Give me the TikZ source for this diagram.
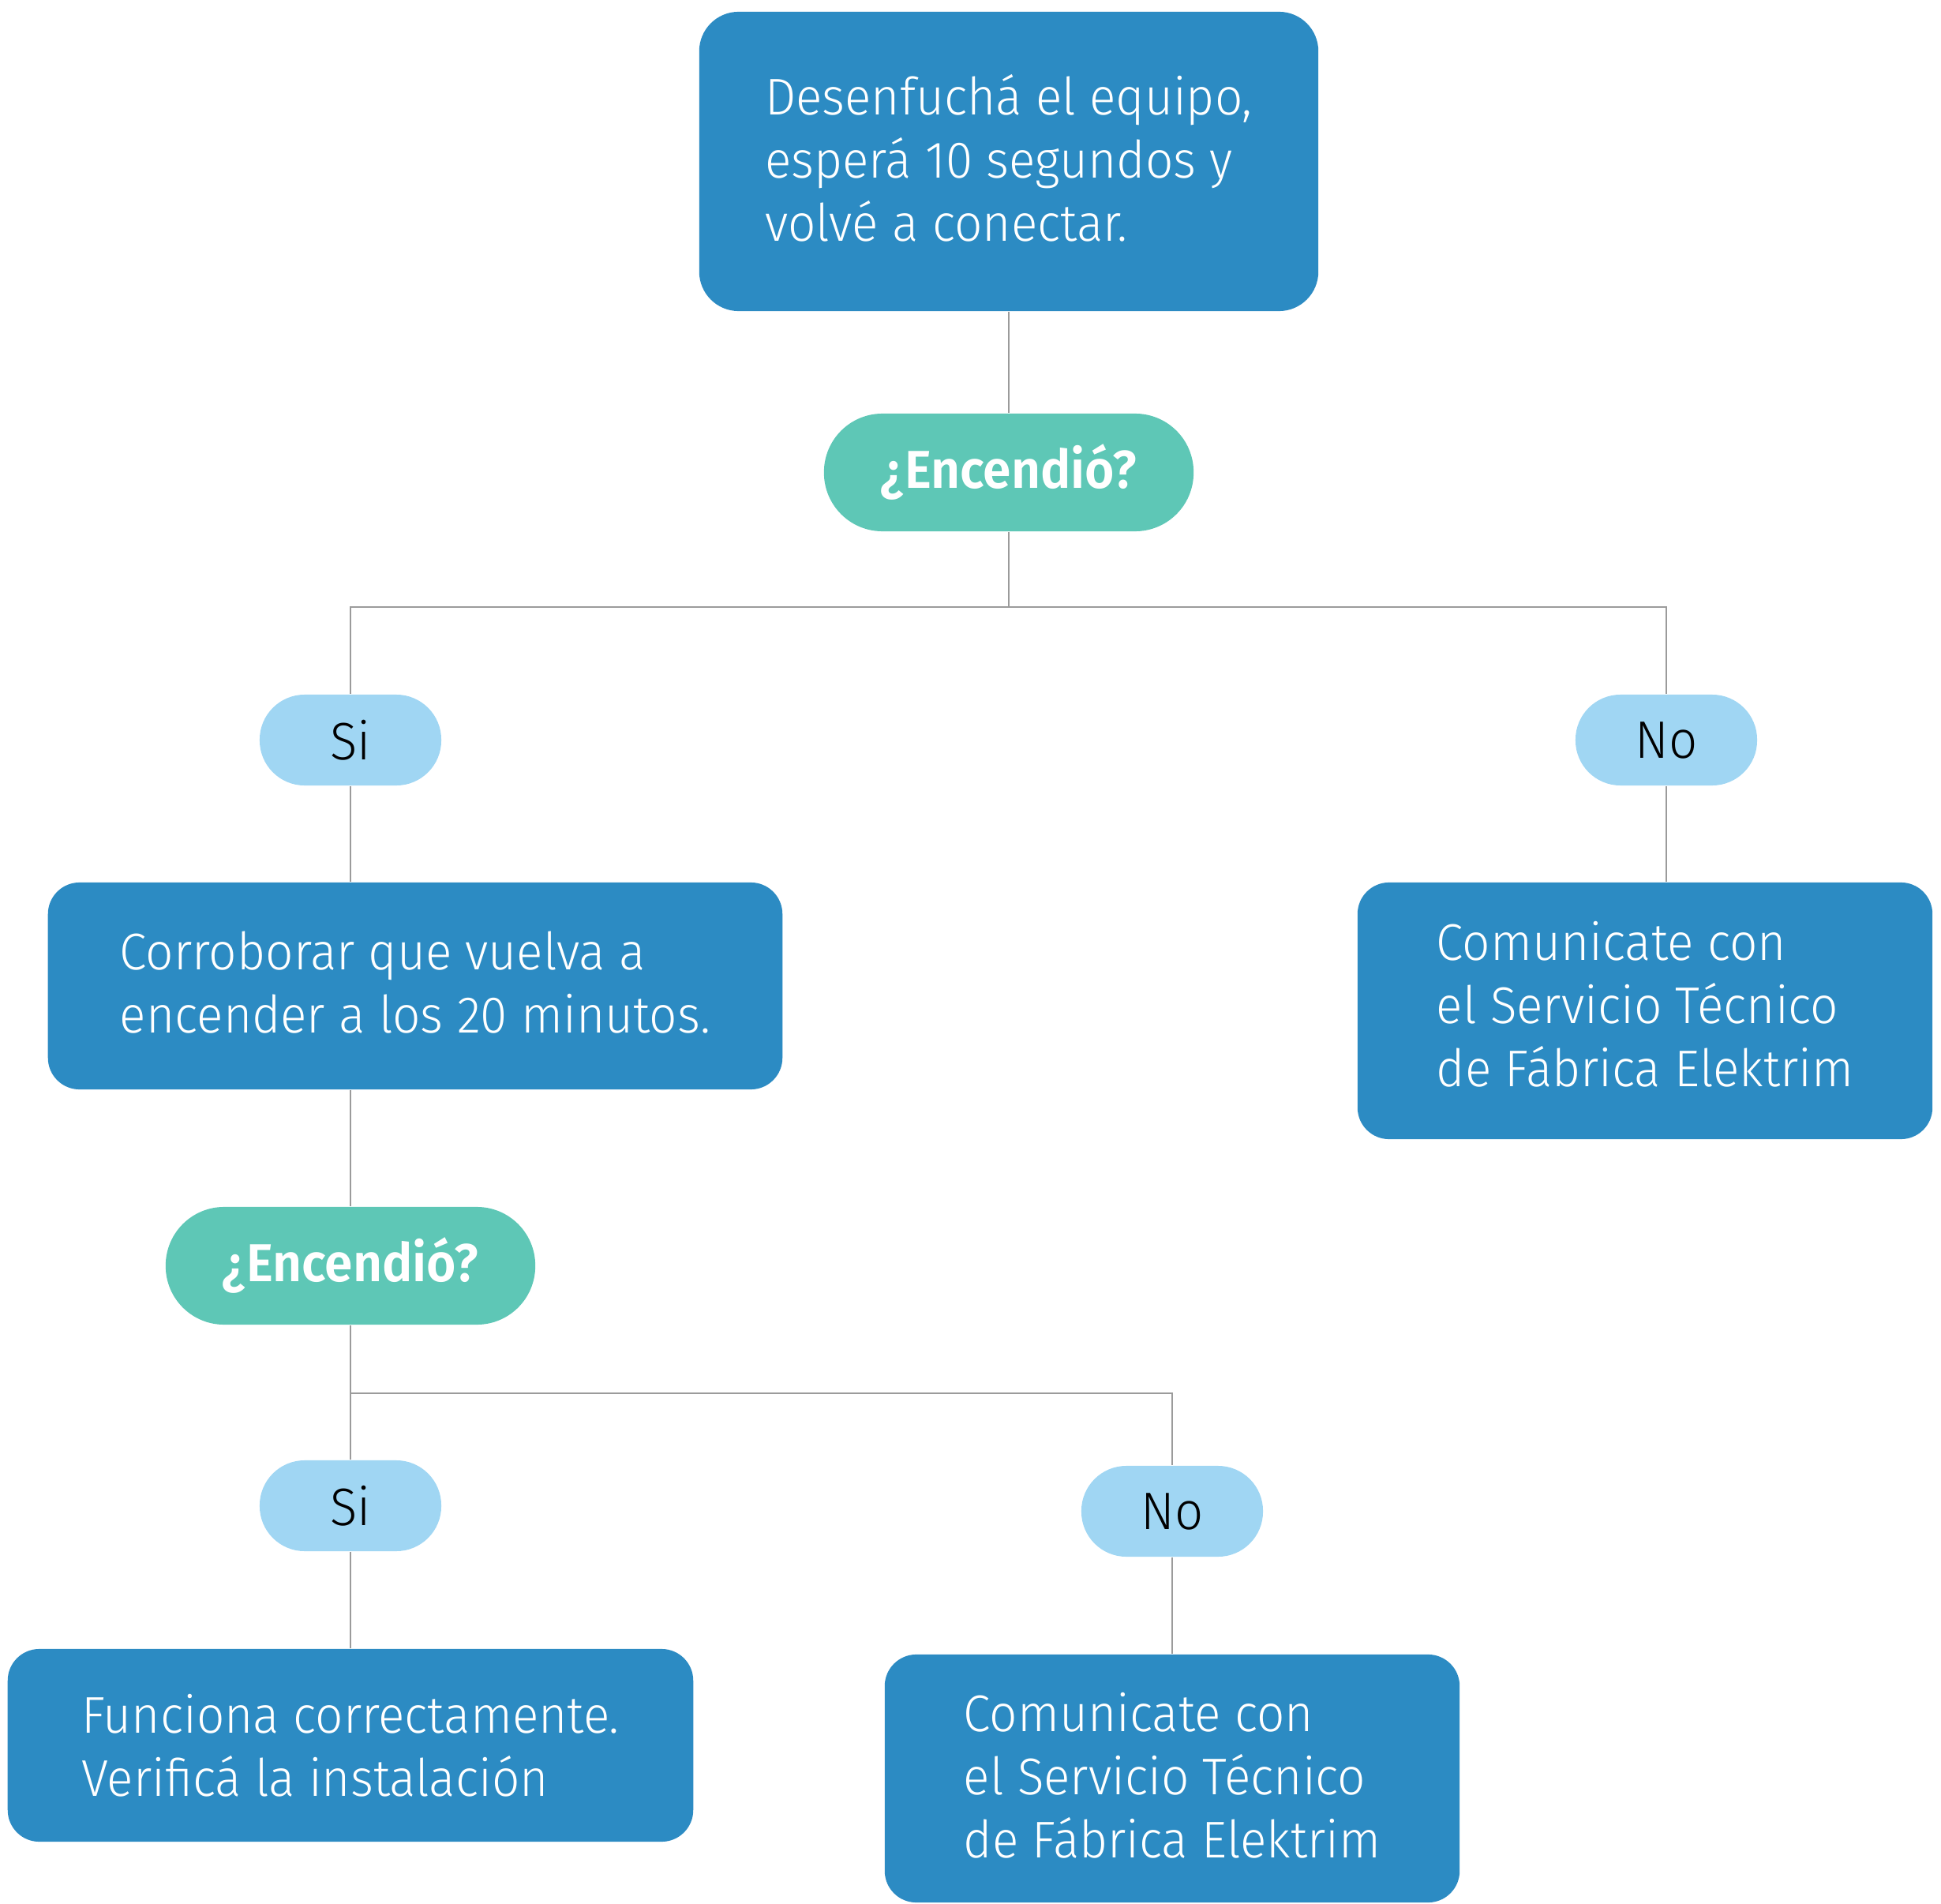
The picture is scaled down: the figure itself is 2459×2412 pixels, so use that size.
\documentclass[tikz,border=0pt]{standalone}
\usepackage{fontspec}
\setmainfont{Fira Sans}[UprightFont={* Light}, BoldFont={* SemiBold}, FakeStretch=0.95]
\definecolor{boxblue}{HTML}{2C8BC3}
\definecolor{askteal}{HTML}{5EC7B6}
\definecolor{anslight}{HTML}{A0D6F3}
\definecolor{linegray}{HTML}{9B9B9B}
\begin{document}
\begin{tikzpicture}[x=0.01cm,y=-0.01cm,
  conn/.style={draw=linegray, line width=0.75pt},
  infobox/.style={fill=boxblue, rounded corners=4mm, text=white, align=left, inner sep=0pt,
    font=\fontsize{18.6}{22.76}\selectfont},
  askpill/.style={fill=askteal, rounded corners=7.4mm, text=white, inner sep=0pt,
    minimum width=46.8mm, minimum height=14.9mm, font=\bfseries\fontsize{19.2}{23}\selectfont},
  anspill/.style={fill=anslight, rounded corners=5.7mm, text=black, inner sep=0pt,
    minimum width=23mm, minimum height=11.5mm, font=\fontsize{19}{23}\selectfont}
]
\useasboundingbox (0,0) rectangle (2459,2412);

\node[infobox, rounded corners=5mm, minimum width=78.4mm, minimum height=37.9mm, text depth=1mm] (a) at (1278,204.5)
  {Desenfuchá el equipo,\\esperá 10 segundos y\\volvé a conectar.};
\node[askpill] (d1) at (1278,598.5) {¿Encendió?};
\node[anspill] (si1) at (444,937.5) {Si};
\node[anspill] (no1) at (2111,937.5) {No};
\node[infobox, minimum width=93mm, minimum height=26.2mm, text depth=1mm] (b) at (526,1249)
  {Corroborar que vuelva a\\encender a los 20 minutos.};
\node[infobox, minimum width=72.8mm, minimum height=32.5mm, text depth=1.8mm] (c1) at (2084,1280.5)
  {Comunicate con\\el Servicio Técnico\\de Fábrica Elektrim};
\node[askpill] (d2) at (444,1603.5) {¿Encendió?};
\node[anspill] (si2) at (444,1907.5) {Si};
\node[anspill] (no2) at (1485,1914.5) {No};
\node[infobox, minimum width=86.8mm, minimum height=24.4mm] (e) at (444,2211)
  {Funciona correctamente.\\Verificá la instalación};
\node[infobox, minimum width=72.8mm, minimum height=31.4mm, text depth=0.8mm] (c2) at (1485,2253)
  {Comunicate con\\el Servicio Técnico\\de Fábrica Elektrim};

\coordinate (h1) at (0,769);
\coordinate (h2) at (0,1765);

\draw[conn] (a.south) -- (d1.north);
\draw[conn] (d1.south) -- (d1.south |- h1);
\draw[conn] (si1.north) -- (si1.north |- h1) -- (no1.north |- h1) -- (no1.north);
\draw[conn] (si1.south) -- (si1.south |- b.north);
\draw[conn] (no1.south) -- (no1.south |- c1.north);
\draw[conn] (d2.north |- b.south) -- (d2.north);
\draw[conn] (d2.south) -- (si2.north);
\draw[conn] (d2.south |- h2) -- (no2.north |- h2) -- (no2.north);
\draw[conn] (si2.south) -- (si2.south |- e.north);
\draw[conn] (no2.south) -- (no2.south |- c2.north);
\end{tikzpicture}
\end{document}
